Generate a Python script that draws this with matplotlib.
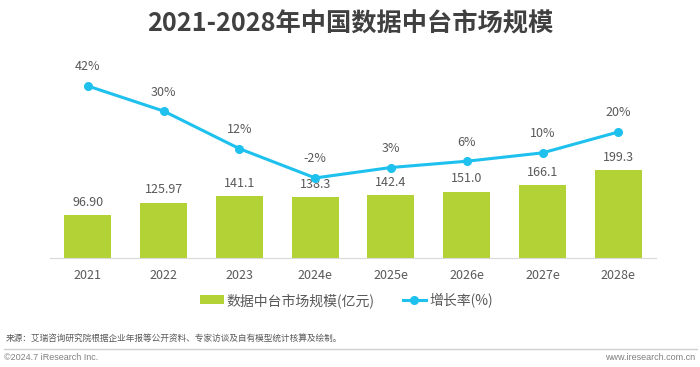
import matplotlib.pyplot as plt
import numpy as np

plt.rcParams['font.family'] = ['Noto Sans CJK SC', 'DejaVu Sans']

years = ['2021', '2022', '2023', '2024e', '2025e', '2026e', '2027e', '2028e']
market_size = [96.90, 125.97, 141.1, 138.3, 142.4, 151.0, 166.1, 199.3]
size_labels = ['96.90', '125.97', '141.1', '138.3', '142.4', '151.0', '166.1', '199.3']
growth = [42, 30, 12, -2, 3, 6, 10, 20]

bar_color = '#B2D235'
line_color = '#1EC1EE'
text_gray = '#595959'

fig = plt.figure(figsize=(7, 3.67), dpi=100)
ax = fig.add_axes([0.0714, 0.297, 0.866, 0.545])
x = np.arange(len(years))

# bars
bars = ax.bar(x, market_size, width=0.62, color=bar_color, label='数据中台市场规模(亿元)', zorder=2)
for xi, v, lab in zip(x, market_size, size_labels):
    ax.text(xi, v + 14, lab, ha='center', va='bottom', fontsize=9, color=text_gray, zorder=5)
ax.set_ylim(0, 455)
ax.set_xlim(-0.5, 7.5)
ax.set_yticks([])
ax.set_xticks(x)
ax.set_xticklabels(years, fontsize=9, color=text_gray)
ax.tick_params(axis='x', length=0, pad=8)
for s in ['top', 'right', 'left']:
    ax.spines[s].set_visible(False)
ax.spines['bottom'].set_color('#D9D9D9')

# growth line
ax2 = ax.twinx()
ax2.plot(x, growth, color=line_color, linewidth=2.2, marker='o', markersize=5.5,
         label='增长率(%)', zorder=3)
for xi, g in zip(x, growth):
    ax2.text(xi, g + 6, f'{g}%', ha='center', va='bottom', fontsize=9, color=text_gray)
ax2.set_ylim(-40.3, 55.4)
ax2.set_yticks([])
for s in ['top', 'right', 'left', 'bottom']:
    ax2.spines[s].set_visible(False)

# legend
h1, l1 = ax.get_legend_handles_labels()
h2, l2 = ax2.get_legend_handles_labels()
fig.legend(h1 + h2, l1 + l2, loc='center', bbox_to_anchor=(0.495, 0.182), ncol=2,
           frameon=False, fontsize=10, labelcolor=text_gray, handlelength=1.7,
           handleheight=0.6, columnspacing=2.0, handletextpad=0.2)

fig.text(0.5, 0.935, '2021-2028年中国数据中台市场规模', ha='center', va='center',
         fontsize=18.2, fontweight='bold', color='#404040')
fig.text(0.008, 0.077, '来源：艾瑞咨询研究院根据企业年报等公开资料、专家访谈及自有模型统计核算及绘制。',
         ha='left', va='center', fontsize=6.25, color=text_gray)
fig.add_artist(plt.Line2D([0.005, 0.995], [0.049, 0.049], color='#D0D0D0', linewidth=1))
fig.text(0.006, 0.027, '©2024.7 iResearch Inc.', ha='left', va='center', fontsize=6.5,
         color='#808080', family='Liberation Sans')
fig.text(0.993, 0.027, 'www.iresearch.com.cn', ha='right', va='center', fontsize=6.5,
         color='#808080', family='Liberation Sans')

fig.savefig('out.png', dpi=100)
